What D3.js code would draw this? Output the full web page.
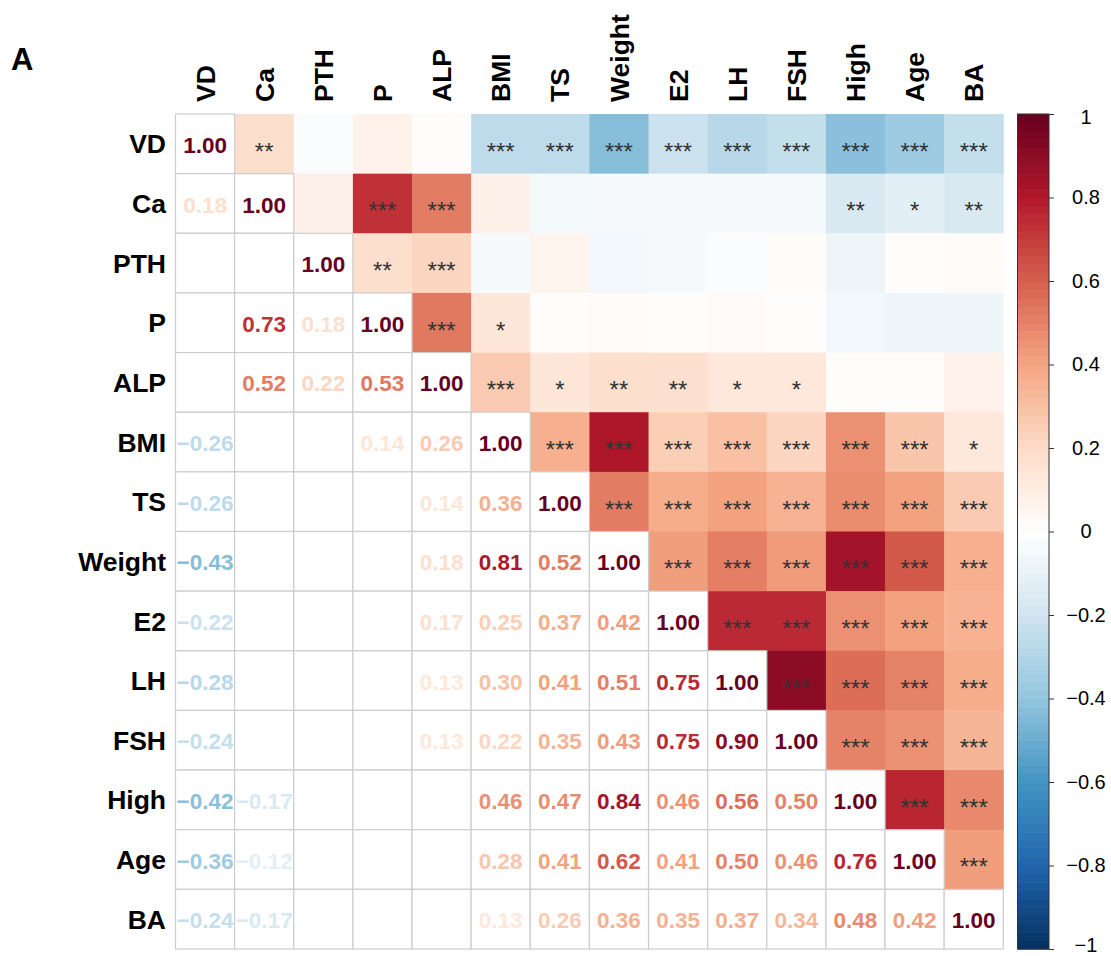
<!DOCTYPE html>
<html>
<head>
<meta charset="utf-8">
<script src="https://cdn.jsdelivr.net/npm/d3@7"></script>
<style>
  html, body { margin: 0; padding: 0; background: #fff; }
  svg { display: block; font-family: "Liberation Sans", Arial, Helvetica, sans-serif; }
</style>
</head>
<body>
<svg id="chart" width="1111" height="956"></svg>
<script>
// ---- Variables ----
const vars = ["VD", "Ca", "PTH", "P", "ALP", "BMI", "TS", "Weight", "E2", "LH", "FSH", "High", "Age", "BA"];

// ---- Lower-triangle correlations (row variable vs. earlier columns, diagonal omitted) ----
const rVD     = [];
const rCa     = [0.18];
const rPTH    = [-0.02, 0.08];
const rP      = [0.07, 0.73, 0.18];
const rALP    = [0.01, 0.52, 0.22, 0.53];
const rBMI    = [-0.26, 0.08, -0.04, 0.14, 0.26];
const rTS     = [-0.26, -0.05, 0.06, 0.01, 0.14, 0.36];
const rWeight = [-0.43, -0.04, -0.06, 0.02, 0.18, 0.81, 0.52];
const rE2     = [-0.22, -0.04, -0.04, 0.01, 0.17, 0.25, 0.37, 0.42];
const rLH     = [-0.28, -0.04, -0.02, 0.03, 0.13, 0.30, 0.41, 0.51, 0.75];
const rFSH    = [-0.24, -0.04, 0.02, 0.01, 0.13, 0.22, 0.35, 0.43, 0.75, 0.90];
const rHigh   = [-0.42, -0.17, -0.08, -0.06, 0.01, 0.46, 0.47, 0.84, 0.46, 0.56, 0.50];
const rAge    = [-0.36, -0.12, 0.01, -0.07, 0.01, 0.28, 0.41, 0.62, 0.41, 0.50, 0.46, 0.76];
const rBA     = [-0.24, -0.17, 0.02, -0.07, 0.07, 0.13, 0.26, 0.36, 0.35, 0.37, 0.34, 0.48, 0.42];

// ---- Significance (number of stars) for the same pairs ----
const sVD     = [];
const sCa     = [2];
const sPTH    = [0, 0];
const sP      = [0, 3, 2];
const sALP    = [0, 3, 3, 3];
const sBMI    = [3, 0, 0, 1, 3];
const sTS     = [3, 0, 0, 0, 1, 3];
const sWeight = [3, 0, 0, 0, 2, 3, 3];
const sE2     = [3, 0, 0, 0, 2, 3, 3, 3];
const sLH     = [3, 0, 0, 0, 1, 3, 3, 3, 3];
const sFSH    = [3, 0, 0, 0, 1, 3, 3, 3, 3, 3];
const sHigh   = [3, 2, 0, 0, 0, 3, 3, 3, 3, 3, 3];
const sAge    = [3, 1, 0, 0, 0, 3, 3, 3, 3, 3, 3, 3];
const sBA     = [3, 2, 0, 0, 0, 1, 3, 3, 3, 3, 3, 3, 3];

// ---- Colour bar ticks ----
const legendTicks  = [1, 0.8, 0.6, 0.4, 0.2, 0, -0.2, -0.4, -0.6, -0.8, -1];
const legendLabels = ["1", "0.8", "0.6", "0.4", "0.2", "0", "\u22120.2", "\u22120.4", "\u22120.6", "\u22120.8", "\u22121"];

const panelLabel = "A";

// ---- Palette (RdBu as in corrplot COL2) ----
const palette = ["#053061", "#2166AC", "#4393C3", "#92C5DE", "#D1E5F0", "#FFFFFF",
                 "#FDDBC7", "#F4A582", "#D6604D", "#B2182B", "#67001F"];

// ================= drawing =================
const corrRows = [rVD, rCa, rPTH, rP, rALP, rBMI, rTS, rWeight, rE2, rLH, rFSH, rHigh, rAge, rBA];
const sigRows  = [sVD, sCa, sPTH, sP, sALP, sBMI, sTS, sWeight, sE2, sLH, sFSH, sHigh, sAge, sBA];

const n = vars.length;
function corr(i, j) { if (i === j) return 1; return i > j ? corrRows[i][j] : corrRows[j][i]; }
function sig(i, j)  { if (i === j) return 3; return i > j ? sigRows[i][j] : sigRows[j][i]; }

const color = d3.scaleLinear()
  .domain(d3.range(palette.length).map(k => -1 + 2 * k / (palette.length - 1)))
  .range(palette)
  .interpolate(d3.interpolateRgb);

const svg = d3.select("#chart");
const gridLeft = 175.5, gridRight = 1003.3, gridTop = 114, gridBottom = 949;

const x = d3.scaleBand().domain(vars).range([gridLeft, gridRight]).padding(0);
const y = d3.scaleBand().domain(vars).range([gridTop, gridBottom]).padding(0);
const bw = x.bandwidth(), bh = y.bandwidth();

const cells = [];
for (let i = 0; i < n; i++) for (let j = 0; j < n; j++) {
  cells.push({ row: vars[i], col: vars[j], i, j, r: corr(i, j), s: sig(i, j) });
}

// upper triangle: coloured squares with stars
const upper = cells.filter(d => d.j > d.i);
svg.append("g").selectAll("rect").data(upper).join("rect")
  .attr("x", d => x(d.col))
  .attr("y", d => y(d.row))
  .attr("width", bw + 0.5)
  .attr("height", bh + 0.5)
  .attr("fill", d => color(d.r));

const starSize = 24;
svg.append("g").selectAll("text").data(upper.filter(d => d.s > 0)).join("text")
  .attr("x", d => x(d.col) + bw / 2)
  .attr("y", d => y(d.row) + bh / 2 + 2 + 0.58 * starSize)
  .attr("text-anchor", "middle")
  .attr("font-size", starSize)
  .attr("fill", "#333333")
  .text(d => "*".repeat(d.s));

// lower triangle + diagonal: white grid cells with numbers
const lower = cells.filter(d => d.j <= d.i);
svg.append("g").selectAll("rect").data(lower).join("rect")
  .attr("x", d => x(d.col))
  .attr("y", d => y(d.row))
  .attr("width", bw)
  .attr("height", bh)
  .attr("fill", "#ffffff")
  .attr("stroke", "#cccccc")
  .attr("stroke-width", 1.2);

const numSize = 22.5;
const fmt = d3.format(".2f");
svg.append("g").selectAll("text").data(lower.filter(d => d.s > 0)).join("text")
  .attr("x", d => x(d.col) + bw / 2)
  .attr("y", d => y(d.row) + bh / 2 + 1 + 0.358 * numSize)
  .attr("text-anchor", "middle")
  .attr("font-size", numSize)
  .attr("font-weight", "bold")
  .attr("fill", d => color(d.r))
  .text(d => fmt(d.r).replace("-", "\u2212"));

// row labels
svg.append("g").selectAll("text").data(vars).join("text")
  .attr("x", 166)
  .attr("y", d => y(d) + bh / 2)
  .attr("dy", "0.36em")
  .attr("text-anchor", "end")
  .attr("font-size", 26.5)
  .attr("font-weight", "bold")
  .attr("fill", "#000")
  .text(d => d);

// column labels
svg.append("g").selectAll("text").data(vars).join("text")
  .attr("transform", d => `translate(${x(d) + bw / 2},102) rotate(-90)`)
  .attr("dy", "0.36em")
  .attr("text-anchor", "start")
  .attr("font-size", 26.5)
  .attr("font-weight", "bold")
  .attr("fill", "#000")
  .text(d => d);

// panel label
svg.append("text")
  .attr("x", 11).attr("y", 70)
  .attr("font-size", 31)
  .attr("font-weight", "bold")
  .attr("fill", "#000")
  .text(panelLabel);

// colour bar
const barX = 1017.5, barW = 31.5;
const yc = d3.scaleLinear().domain([-1, 1]).range([gridBottom, gridTop]);
const nBands = 100;
const bands = d3.range(nBands).map(k => -1 + 2 * (k + 0.5) / nBands);
svg.append("g").selectAll("rect").data(bands).join("rect")
  .attr("x", barX)
  .attr("y", d => yc(d + 1 / nBands))
  .attr("width", barW)
  .attr("height", (gridBottom - gridTop) / nBands + 0.6)
  .attr("fill", d => color(d));
svg.append("rect")
  .attr("x", barX).attr("y", gridTop)
  .attr("width", barW).attr("height", gridBottom - gridTop)
  .attr("fill", "none").attr("stroke", "#333").attr("stroke-width", 1);

const axis = d3.axisRight(yc)
  .tickValues(legendTicks)
  .tickSize(5)
  .tickFormat((d, i) => legendLabels[i]);
const axG = svg.append("g")
  .attr("transform", `translate(${barX + barW},0)`)
  .call(axis);
axG.select(".domain").remove();
axG.selectAll(".tick line").attr("stroke", "#333");
axG.selectAll(".tick text")
  .attr("x", 37)
  .attr("text-anchor", "middle")
  .attr("font-size", 20)
  .attr("font-family", "'Liberation Sans', Arial, sans-serif")
  .attr("fill", "#000")
  .attr("dy", d => d === -1 ? "0.1em" : (d === 1 ? "0.45em" : "0.32em"));
</script>
</body>
</html>
